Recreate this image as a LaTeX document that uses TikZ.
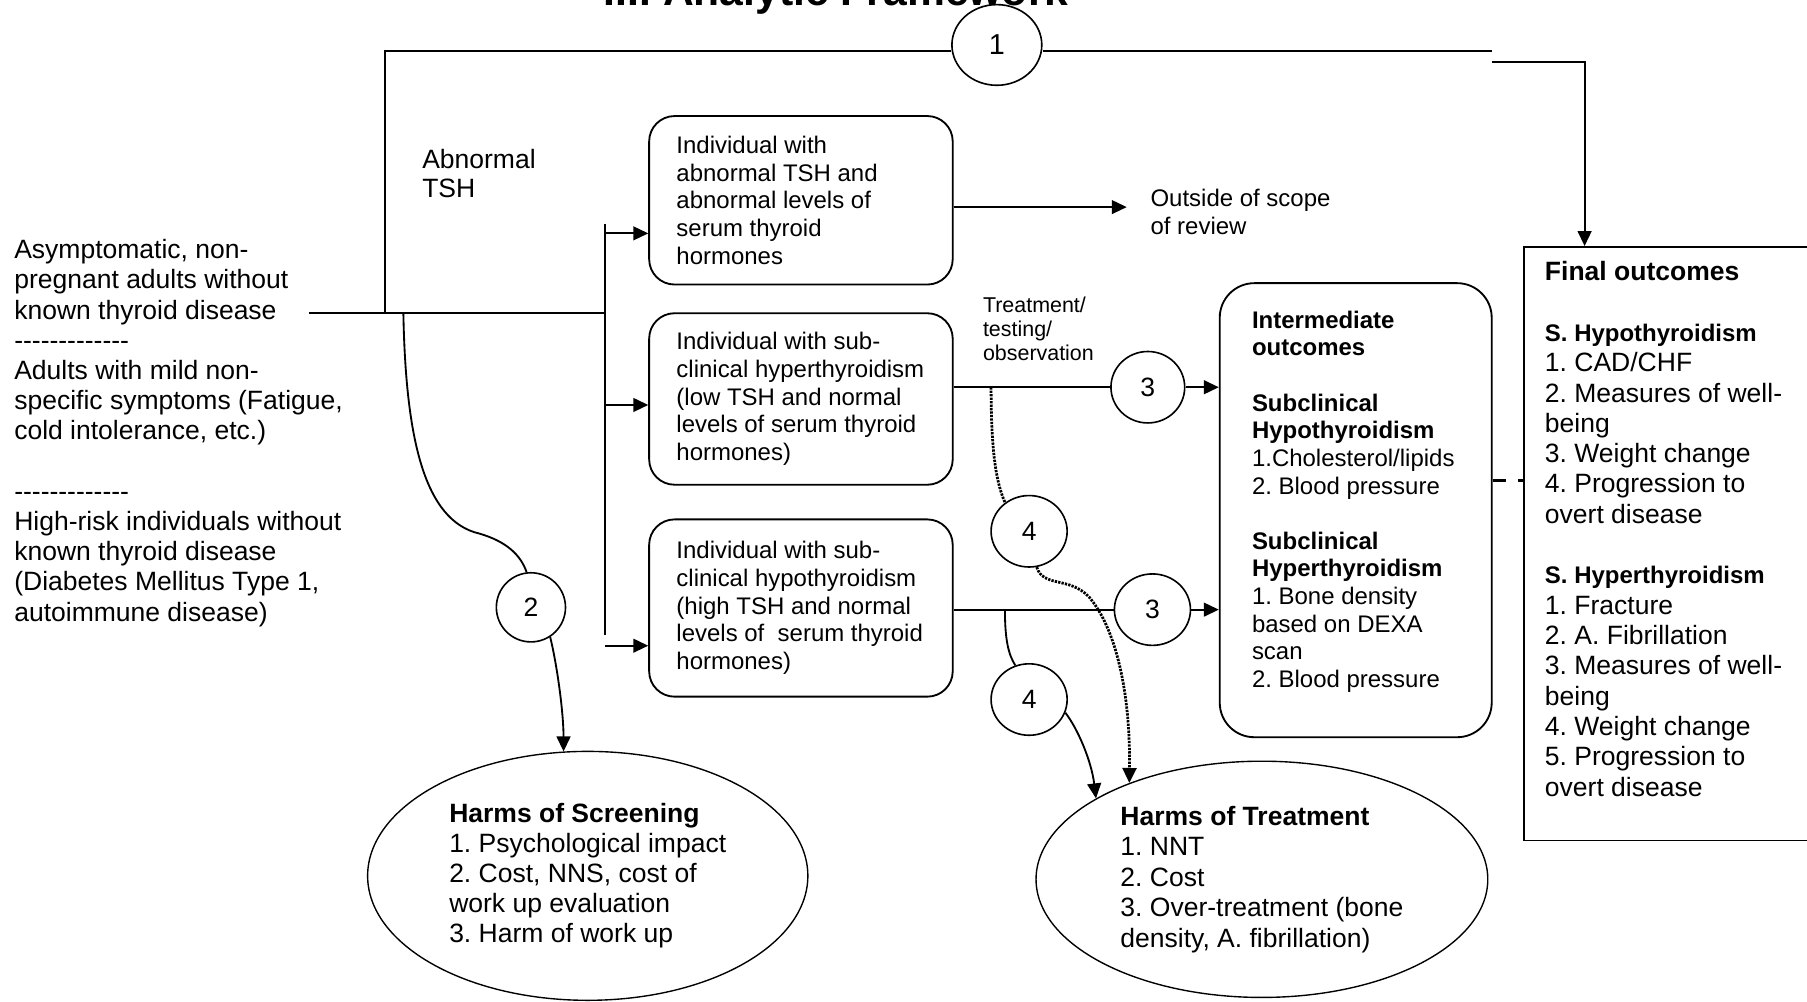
\documentclass[tikz,border=0pt]{standalone}
\usepackage{fontspec}
\setmainfont{Liberation Sans}
\usetikzlibrary{arrows.meta,positioning,shapes.geometric,calc}

% row of hyphens kept apart (no dash ligatures)
\newcommand{\sepline}{\mbox{-}\mbox{-}\mbox{-}\mbox{-}\mbox{-}\mbox{-}\mbox{-}\mbox{-}\mbox{-}\mbox{-}\mbox{-}\mbox{-}\mbox{-}}
% first line of a box, padded to the box's text width
\newcommand{\firstline}[1]{\makebox[108pt][l]{#1}}

\tikzset{
  ibox/.style={draw, line width=0.8pt, rounded corners=11pt, align=left,
    inner xsep=11.85pt, inner ysep=0pt, font=\fontsize{10.4}{12}\selectfont},
  num/.style={draw, ellipse, line width=0.7pt, inner sep=0pt, minimum width=33pt,
    minimum height=31pt, font=\fontsize{11.5}{13}\selectfont},
  harm/.style={draw, ellipse, line width=0.6pt, inner sep=0pt, align=left,
    font=\fontsize{11.5}{13}\selectfont},
  plain/.style={inner sep=0pt, align=left, anchor=north west},
  link/.style={line width=0.8pt},
  arr/.style={line width=0.8pt, -{Triangle[length=6.5pt,width=6pt]}},
  dotlink/.style={line width=1.2pt, dash pattern=on 1pt off 0.5pt},
}

\begin{document}
\frenchspacing
\begin{tikzpicture}[x=0.5pt, y=-0.5pt]
  \useasboundingbox (0,0) rectangle (1568,869);

  % Title (cut by the page edge)
  \node[font=\bfseries\fontsize{18.5}{22}\selectfont, anchor=base] (title) at (725.5,5) {III. Analytic Framework};

  % Population
  \node[plain, font=\fontsize{11.5}{13.1}\selectfont] (pop) at (12,207.4)
    {Asymptomatic, non-\\pregnant adults without\\known thyroid disease\\\sepline\\
     Adults with mild non-\\specific symptoms (Fatigue,\\cold intolerance, etc.)\\[13.1pt]
     \sepline\\High-risk individuals without\\known thyroid disease\\
     (Diabetes Mellitus Type 1,\\autoimmune disease)};
  \node[plain, font=\fontsize{11.5}{12.35}\selectfont] (abn) at (366,129.4) {Abnormal\\TSH};

  % Individuals after screening
  \node[ibox, minimum height=73.1pt] (b1) at (695,173.8)
    {\firstline{Individual with}\\abnormal TSH and\\abnormal levels of\\serum thyroid\\hormones};
  \node[ibox, minimum height=74.4pt] (b2) at (695,346.2)
    {\firstline{Individual with sub-}\\clinical hyperthyroidism\\(low TSH and normal\\levels of serum thyroid\\hormones)};
  \node[ibox, minimum height=76.9pt] (b3) at (695,527.6)
    {\firstline{Individual with sub-}\\clinical hypothyroidism\\(high TSH and normal\\levels of~ serum thyroid\\hormones)};

  \node[plain, font=\fontsize{10.4}{12}\selectfont] (oos) at (998,163.6) {Outside of scope\\of review};
  \node[plain, font=\fontsize{9.3}{10.4}\selectfont] (trt) at (852.6,257.7) {Treatment/\\testing/\\observation};

  % Outcomes
  \node[draw, line width=0.8pt, rounded corners=15pt, anchor=north west, inner xsep=14pt,
    inner ysep=11.95pt, font=\fontsize{10.4}{12}\selectfont] (inter) at (1057.6,244.9)
    {\parbox[t][173.1pt][t]{90pt}{\raggedright
      \textbf{Intermediate}\\\textbf{outcomes}\\[12pt]
      \textbf{Subclinical}\\\textbf{Hypothyroidism}\\1.Cholesterol/lipids\\2. Blood pressure\\[12pt]
      \textbf{Subclinical}\\\textbf{Hyperthyroidism}\\1. Bone density\\based on DEXA\\scan\\2. Blood pressure}};
  \node[draw, line width=0.8pt, anchor=north west, inner xsep=9.2pt, inner ysep=6.35pt,
    font=\fontsize{11.5}{13.15}\selectfont] (final) at (1321.4,213.5)
    {\parbox[t][244.8pt][t]{125pt}{\raggedright
      \textbf{Final outcomes}\\[13.15pt]
      {\fontsize{10.4}{13.15}\selectfont\bfseries S. Hypothyroidism}\\1. CAD/CHF\\
      2. Measures of well-\\being\\3. Weight change\\4. Progression to\\overt disease\\[13.15pt]
      {\fontsize{10.4}{13.15}\selectfont\bfseries S. Hyperthyroidism}\\1. Fracture\\
      2. A. Fibrillation\\3. Measures of well-\\being\\4. Weight change\\5. Progression to\\overt disease}};

  % Harms
  \node[harm, minimum width=191pt, minimum height=108pt] (hs) at (510,760)
    {\textbf{Harms of Screening}\\1. Psychological impact\\2. Cost, NNS, cost of\\work up evaluation\\3. Harm of work up};
  \node[harm, minimum width=196pt, minimum height=102.5pt, font=\fontsize{11.5}{13.2}\selectfont] (ht) at (1095,763)
    {\textbf{Harms of Treatment}\\1. NNT\\2. Cost\\3. Over-treatment (bone\\density, A. fibrillation)};

  % Key questions
  \node[num, minimum width=39pt, minimum height=35pt, font=\fontsize{12.5}{14}\selectfont] (c1) at (865,39) {1};
  \node[num, minimum width=30pt, minimum height=30pt] (c2) at (460.7,527) {2};
  \node[num, minimum width=32pt] (c3a) at (996,336) {3};
  \node[num] (c3b) at (1000,529) {3};
  \node[num] (c4a) at (893,461) {4};
  \node[num] (c4b) at (893,607) {4};

  % Junction points
  \coordinate (src) at (268,271.3);
  \coordinate (split) at (334,271.3);
  \coordinate (tap) at (350,271.3);
  \coordinate (bus) at (525,271.3);
  \coordinate (bustop) at (525,194);
  \coordinate (busbot) at (525,551);
  \coordinate (a1) at (525,202.5);
  \coordinate (a2) at (525,351.4);
  \coordinate (a3) at (525,560.3);
  \coordinate (tl) at (334,44);
  \coordinate (tr) at (1294.4,44);
  \coordinate (jog) at (1294.4,53.5);
  \coordinate (scope) at (977.7,179.7);
  \coordinate (d1) at (860,336);
  \coordinate (s4) at (872,529);
  \coordinate (dl) at (1294,417.1);

  % Screening and overarching path
  \draw[link] (src) -- (bus);
  \draw[link] (split) -- (tl) -- (c1.west |- tl);
  \draw[link] (c1.east |- tl) -- (tr);
  \draw[arr] (jog) -| ([xshift=26.8pt]final.north west);
  \draw[link] (bustop) -- (busbot);
  \foreach \src/\dst in {a1/b1, a2/b2, a3/b3}
    \draw[arr] (\src) -- (\src -| \dst.west);
  \draw[arr] (b1.east |- scope) -- (scope);

  % Treatment to intermediate outcomes
  \draw[link] (b2.east |- c3a) -- (c3a.west);
  \draw[arr] (c3a.east) -- (c3a.east -| inter.west);
  \draw[link] (b3.east |- c3b) -- (c3b.west);
  \draw[arr] (c3b.east) -- (c3b.east -| inter.west);
  \draw[line width=1.3pt, dash pattern=on 6pt off 5pt] (inter.east |- dl) -- (final.west |- dl);

  % Harms of treatment
  \draw[dotlink] (d1) .. controls (860,390) and (864,418) .. (c4a.130);
  \draw[dotlink, -{Triangle[length=6.5pt,width=6pt]}] (c4a.-78) .. controls (905,510) and (928,500) .. (945,518)
    .. controls (968,545) and (981,600) .. (ht.144);
  \draw[link] (s4) .. controls (872,555) and (875,568) .. (c4b.112);
  \draw[arr] (c4b.-20) .. controls (935,632) and (947,660) .. (ht.154);

  % Harms of screening
  \draw[link] (tap) .. controls (352,380) and (368,452) .. (416,463) .. controls (440,470) and (452,482) .. (c2.97);
  \draw[arr] (c2.-57) .. controls (484,580) and (489,620) .. (hs.101);
\end{tikzpicture}
\end{document}
